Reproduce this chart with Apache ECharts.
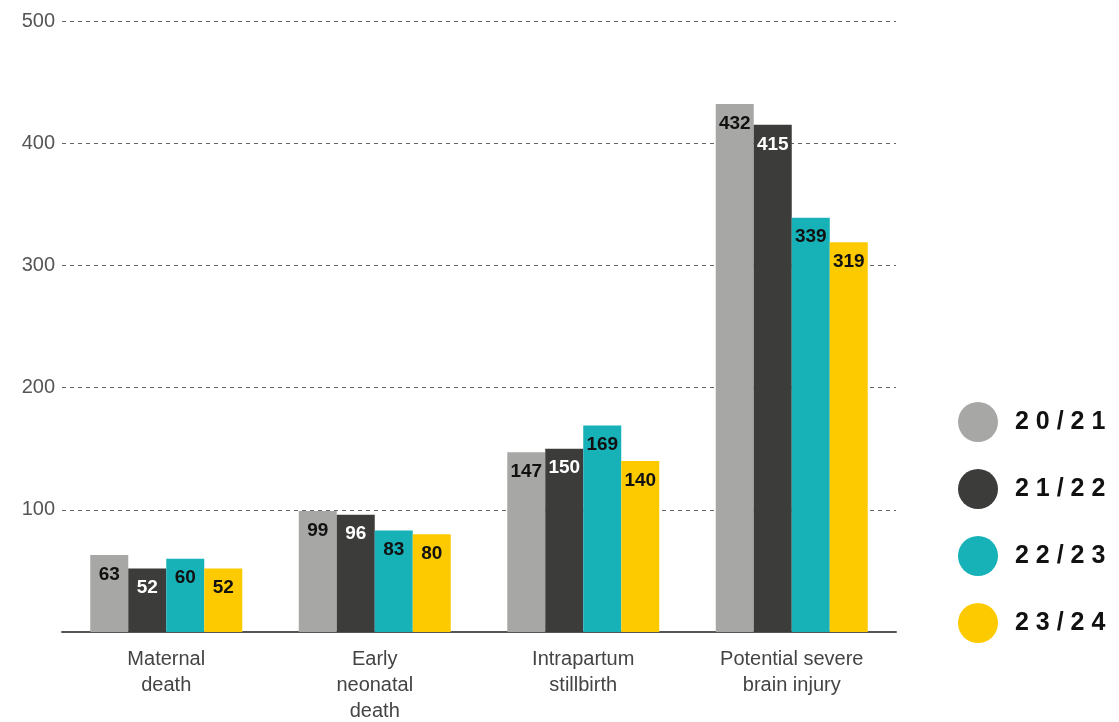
<!DOCTYPE html>
<html>
<head>
<meta charset="utf-8">
<script src="https://cdn.jsdelivr.net/npm/echarts@6/dist/echarts.min.js"></script>
<style>
  html, body { margin: 0; padding: 0; background: #fff; }
  #main { width: 1119px; height: 722px; }
</style>
</head>
<body>
<div id="main"></div>
<script>
var categories = ['Maternal\ndeath', 'Early\nneonatal\ndeath', 'Intrapartum\nstillbirth', 'Potential severe\nbrain injury'];
var years = ['20/21', '21/22', '22/23', '23/24'];
var v2021 = [63, 99, 147, 432];
var v2122 = [52, 96, 150, 415];
var v2223 = [60, 83, 169, 339];
var v2324 = [52, 80, 140, 319];
var yTicks = [100, 200, 300, 400, 500];

var colors = ['#a7a7a6', '#3c3c3b', '#17b1b8', '#fdca00'];
var labelColors = ['#111', '#fff', '#111', '#111'];
var allValues = [v2021, v2122, v2223, v2324];

var myChart = echarts.init(document.getElementById('main'));

var series = years.map(function (y, i) {
    return {
        name: y,
        type: 'bar',
        data: allValues[i],
        barWidth: 38,
        barGap: '0%',
        itemStyle: { color: colors[i] },
        label: {
            show: true,
            position: 'insideTop',
            distance: 10,
            color: labelColors[i],
            fontSize: 19,
            fontWeight: 'bold',
            fontFamily: 'Liberation Sans'
        }
    };
});

option = {
    animation: false,
    grid: { left: 62, right: 223, top: 21, bottom: 90, outerBoundsMode: 'none' },
    legend: {
        orient: 'vertical',
        left: 953,
        top: 397,
        icon: 'circle',
        itemWidth: 40,
        itemHeight: 40,
        itemGap: 27,
        data: years,
        formatter: function (name) { return name.split('').join(' '); },
        textStyle: {
            fontSize: 25,
            fontWeight: 'bold',
            color: '#111',
            fontFamily: 'Liberation Sans',
            padding: [0, 0, 0, 12]
        }
    },
    xAxis: {
        type: 'category',
        data: categories,
        axisLine: { lineStyle: { color: '#555', width: 2 } },
        axisTick: { show: false },
        axisLabel: {
            color: '#444',
            fontSize: 20,
            lineHeight: 26,
            margin: 14,
            fontFamily: 'Liberation Sans'
        }
    },
    yAxis: {
        type: 'value',
        min: 0,
        max: 500,
        interval: 100,
        axisLine: { show: false },
        axisTick: { show: false },
        axisLabel: {
            color: '#555',
            fontSize: 20,
            margin: 7,
            fontFamily: 'Liberation Sans',
            formatter: function (v) { return yTicks.indexOf(v) >= 0 ? String(v) : ''; }
        },
        splitLine: { lineStyle: { color: '#666', type: [4, 4], width: 1 } }
    },
    series: series
};

myChart.setOption(option);
</script>
</body>
</html>
